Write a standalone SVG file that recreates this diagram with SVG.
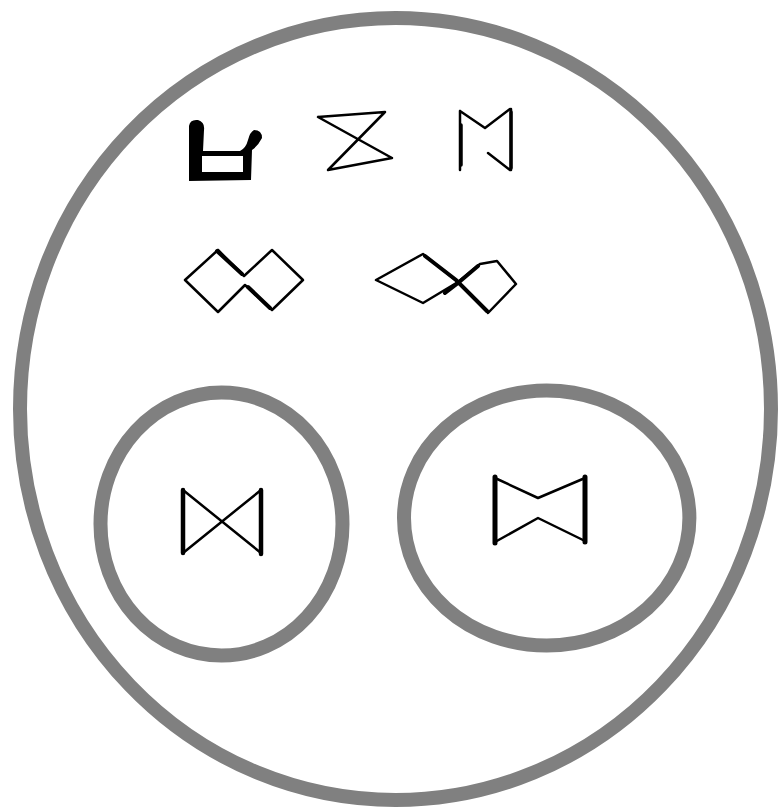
<svg xmlns="http://www.w3.org/2000/svg" width="779" height="807" viewBox="0 0 779 807">
<style>
.ring{fill:none;stroke:#808080;stroke-width:14}
.ink{fill:none;stroke:#000;stroke-width:2.5;stroke-linejoin:round;stroke-linecap:round}
.thick{fill:none;stroke:#000;stroke-width:5;stroke-linecap:round}
</style>
<rect width="779" height="807" fill="#fff"/>
<g id="outer"><ellipse class="ring" cx="395.5" cy="409" rx="375.5" ry="391"/></g>
<g id="circle-left"><ellipse class="ring" cx="221.5" cy="524" rx="121" ry="131.5"/></g>
<g id="circle-right"><ellipse class="ring" cx="546.7" cy="518" rx="142.7" ry="127.5"/></g>
<g id="glyph-cup">
<path d="M189,126 Q190,119 198,120 Q205,122 204,130 L203,151 L240,151 Q246,148 248,140 Q250,132 254,130 Q262,130 262,138 Q258,146 252,150 L251,180 L189,181 Z M202,156 L202,172 L243,172 L243,156 Z" fill="#000" fill-rule="evenodd"/>
</g>
<g id="glyph-hourglass">
<path class="ink" d="M318,117 L385,112 M318,117 L392,158 M385,112 L328,170 L392,158"/>
</g>
<g id="glyph-m">
<path class="ink" d="M460,111 L460,170 M460,111 L485,128 L510,109 M511,109 L511,170 M488,153 L510,170"/>
<path class="thick" d="M461,125 L461,165 M511,112 L511,168" style="stroke-width:3.5"/>
</g>
<g id="glyph-diamonds-1">
<path class="ink" d="M218,250 L185,280 L218,312 L245,285 L272,310 L303,280 L272,250 L244,276 L218,250"/>
<path class="thick" d="M217,251 L242,274 M248,287 L270,308" style="stroke-width:4"/>
</g>
<g id="glyph-diamonds-2">
<path class="ink" d="M376,280 L423,254 L458,282 L423,303 L376,280 M458,282 L480,264 L497,261 L516,284 L488,313 L458,282"/>
<path class="thick" d="M425,256 L456,280 L487,311 M445,293 L458,283 L478,266" style="stroke-width:4"/>
</g>
<g id="glyph-bowtie-1">
<path class="ink" d="M183,490 L261,553 M183,553 L261,490"/>
<path class="thick" d="M183,490 L183,553 M261,490 L261,554" style="stroke-width:4.5"/>
</g>
<g id="glyph-bowtie-2">
<path class="ink" d="M495,478 L538,498 L585,478 M495,542 L538,518 L585,541"/>
<path class="thick" d="M495,477 L495,543 M585,477 L585,542" style="stroke-width:5"/>
</g>
</svg>
